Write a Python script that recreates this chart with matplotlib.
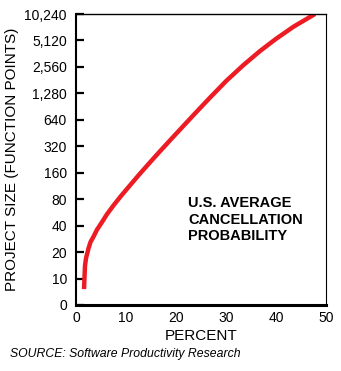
import numpy as np
import matplotlib
matplotlib.use("Agg")
import matplotlib.pyplot as plt

plt.rcParams['font.family'] = ['Liberation Sans', 'DejaVu Sans']

# Cancellation probability curve (percent vs. project size in function points)
percent = [1.6, 1.8, 2.0, 2.5, 2.9, 3.5, 4.2, 5.1, 6.2, 7.5, 9.0, 10.8,
           12.7, 14.8, 16.6, 18.5, 20.5, 23.5, 26.8, 30.1, 33.5, 36.8,
           40.0, 43.5, 47.8]
project_size = [6, 14, 17, 22, 26, 30, 36, 43, 54, 68, 87, 115,
                154, 210, 273, 358, 475, 725, 1145, 1785, 2690, 3880,
                5340, 7340, 10240]

y_ticks = [0, 10, 20, 40, 80, 160, 320, 640, 1280, 2560, 5120, 10240]
y_tick_labels = ["0", "10", "20", "40", "80", "160", "320", "640",
                 "1,280", "2,560", "5,120", "10,240"]
x_ticks = [0, 10, 20, 30, 40, 50]


# Doubling scale: each power-of-two step gets equal height, linear below 10
def fwd(v):
    v = np.asarray(v, dtype=float)
    with np.errstate(divide="ignore", invalid="ignore"):
        lg = np.log2(np.maximum(v, 1e-9) / 5.0)
    return np.where(v >= 10, lg, v / 10.0)


def inv(i):
    i = np.asarray(i, dtype=float)
    return np.where(i >= 1, 5.0 * np.power(2.0, i), i * 10.0)


fig = plt.figure(figsize=(3.41, 3.71), dpi=100)
ax = fig.add_axes([76 / 341, 66 / 371, 250 / 341, 291 / 371])

ax.plot(percent, project_size, color="#ED1C24", lw=3.2,
        solid_capstyle="butt", solid_joinstyle="round")

ax.set_yscale("function", functions=(fwd, inv))
ax.set_ylim(0, 10240)
ax.set_xlim(0, 50)

ax.set_yticks(y_ticks)
ax.set_yticklabels(y_tick_labels)
ax.yaxis.set_minor_locator(matplotlib.ticker.NullLocator())
ax.set_xticks(x_ticks)

ax.tick_params(axis="y", direction="in", length=5.5, width=1.6, pad=6.5,
               labelsize=10, left=True, right=False)
ax.tick_params(axis="x", length=0, pad=4.5, labelsize=10)

ax.spines["bottom"].set_linewidth(2.2)
ax.spines["left"].set_linewidth(1.5)
ax.spines["top"].set_linewidth(1.0)
ax.spines["right"].set_linewidth(0.8)

ax.set_xlabel("PERCENT", fontsize=11, labelpad=3)
ax.set_ylabel("PROJECT SIZE (FUNCTION POINTS)", fontsize=11, labelpad=4)

ax.text(0.448, 0.373, "U.S. AVERAGE\nCANCELLATION\nPROBABILITY",
        transform=ax.transAxes, ha="left", va="top",
        fontsize=10.5, fontweight="bold", linespacing=1.2)

fig.text(10 / 341, 14 / 371, "SOURCE: Software Productivity Research",
         fontsize=8.8, style="italic", ha="left", va="baseline")

fig.savefig("out.png", dpi=100)
